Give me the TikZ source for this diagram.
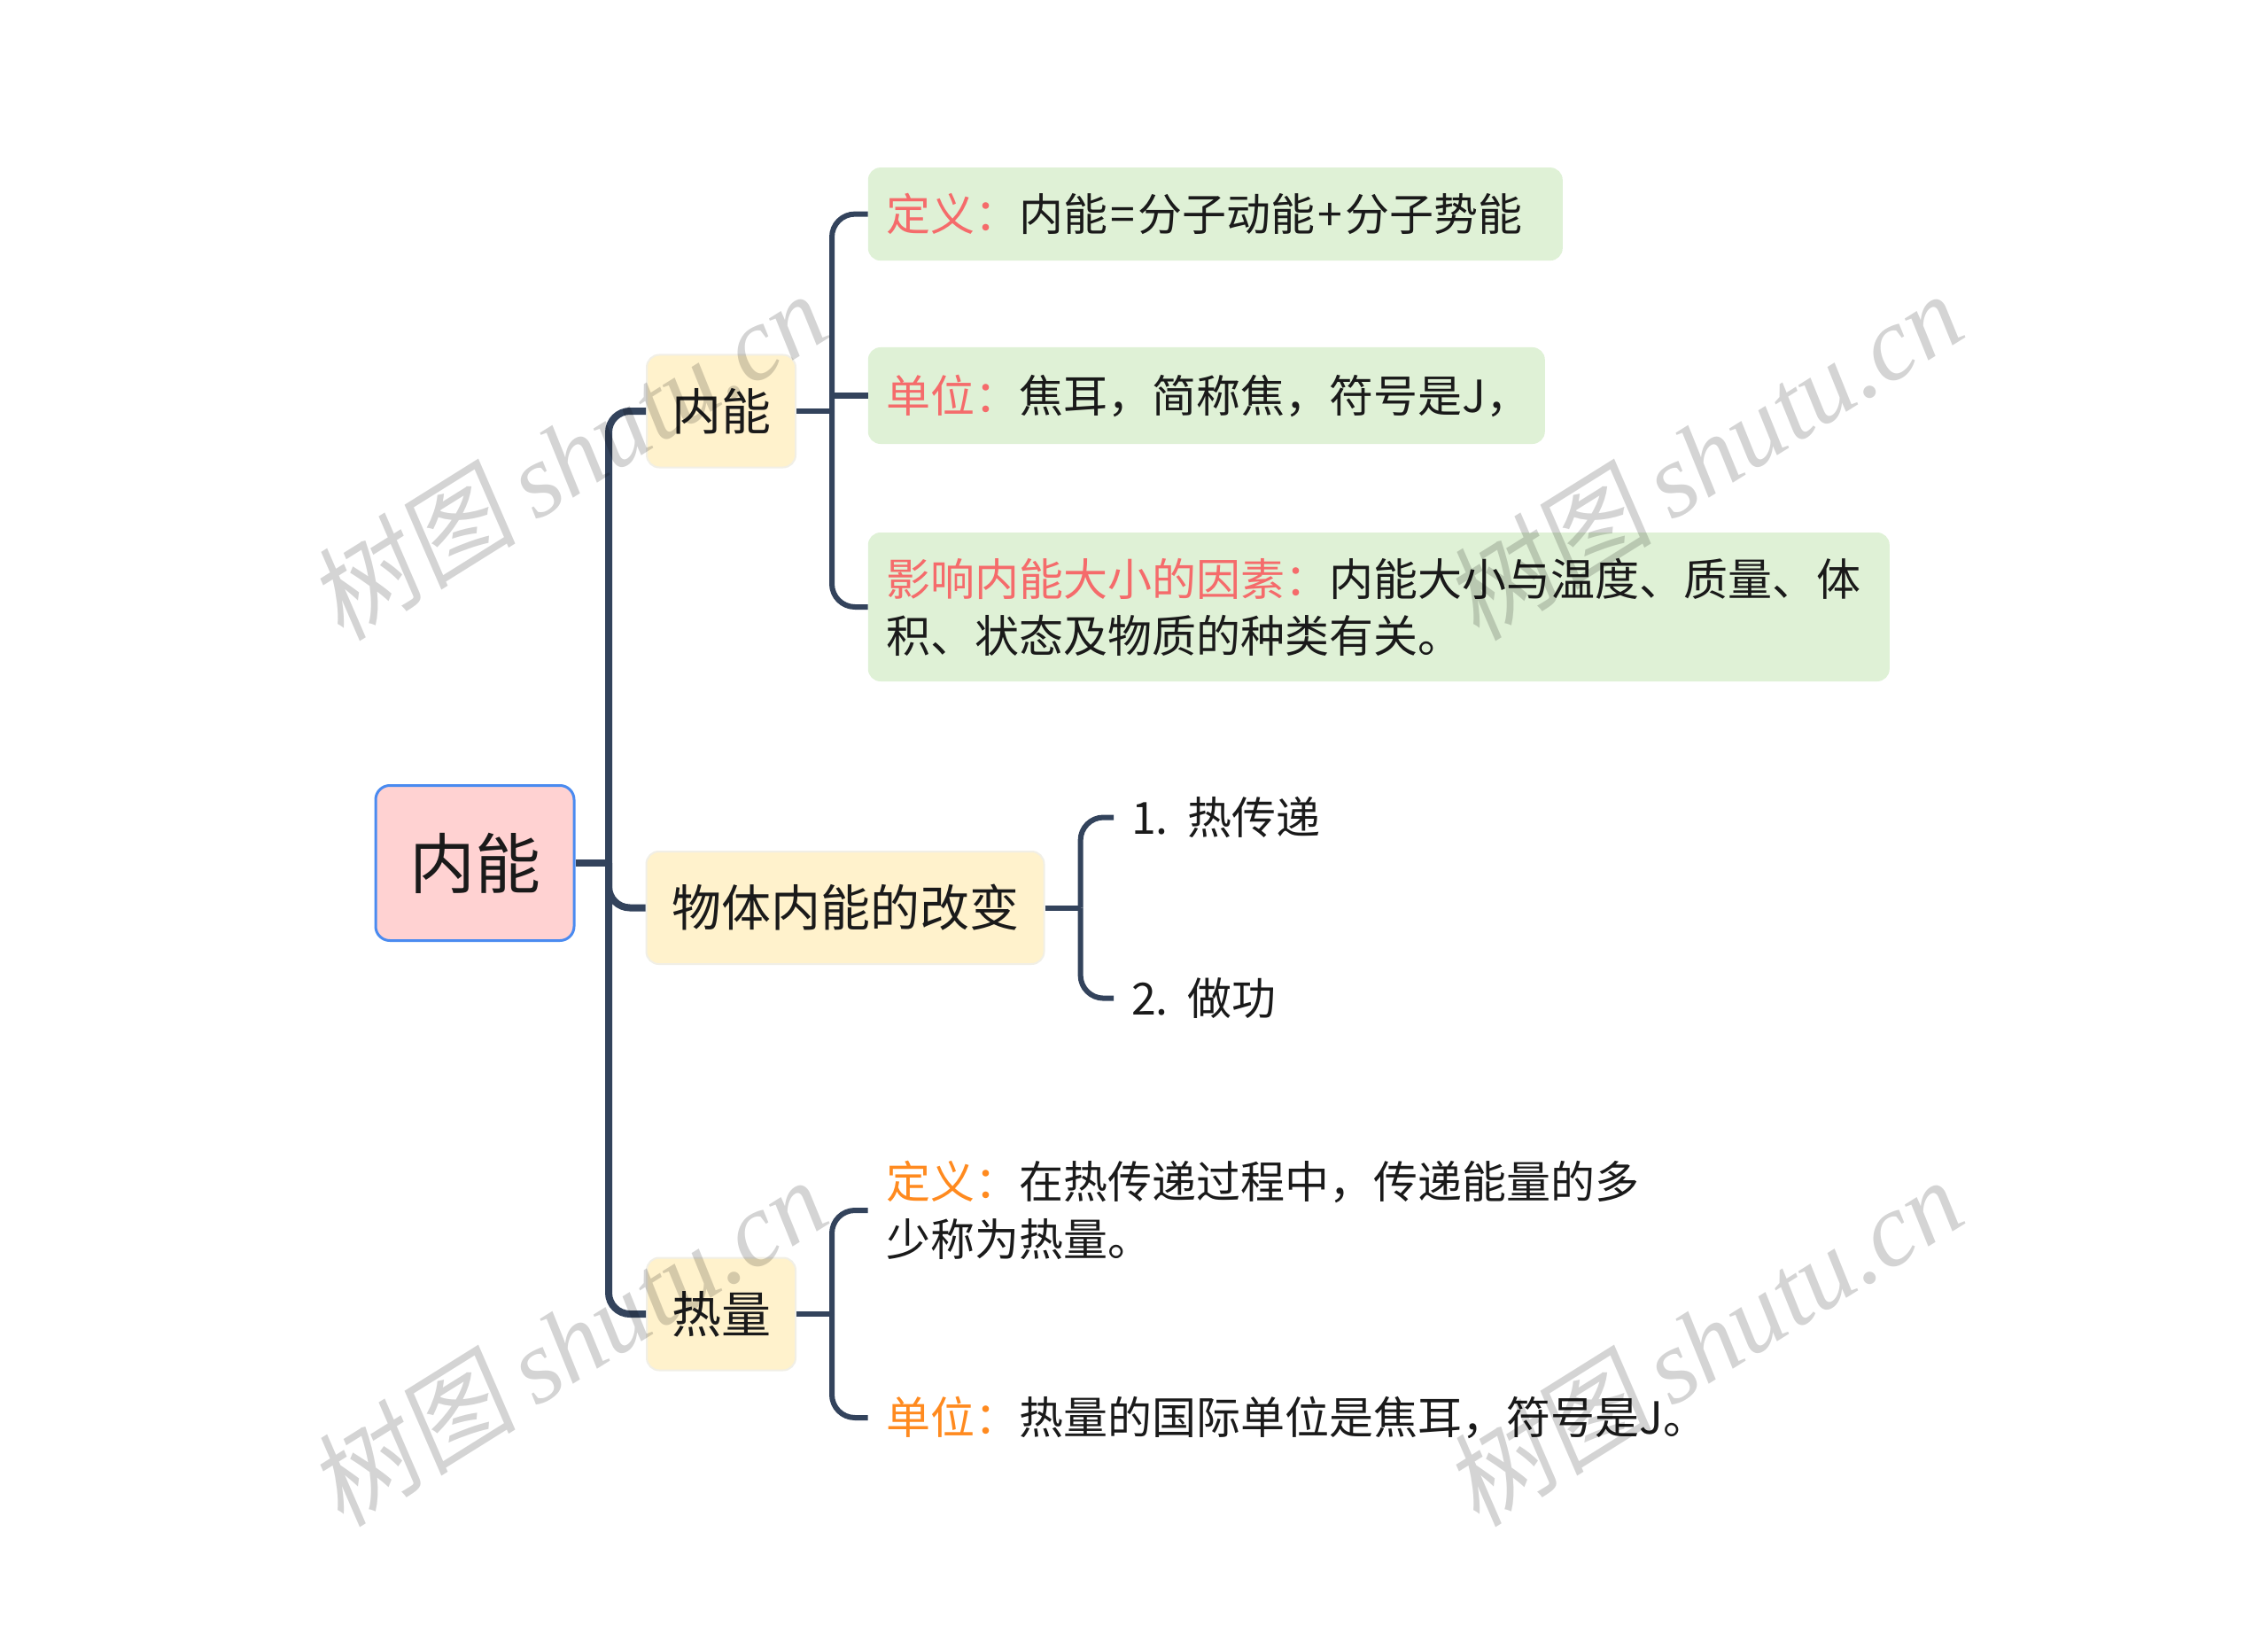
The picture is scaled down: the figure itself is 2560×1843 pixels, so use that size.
\documentclass[tikz,border=0pt]{standalone}
\usepackage{fontspec}
\setmainfont{Noto Sans CJK SC}
\newfontfamily\wmcjk[FakeSlant=0.15]{Noto Sans CJK SC}
\newfontfamily\wmlat{Liberation Serif}
\definecolor{linec}{HTML}{33435C}
\definecolor{rootfill}{HTML}{FFD2D2}
\definecolor{rootdraw}{HTML}{4A8BF0}
\definecolor{yfill}{HTML}{FFF2CC}
\definecolor{ydraw}{HTML}{F1EFE6}
\definecolor{gfill}{HTML}{DFF1D6}
\definecolor{redlab}{HTML}{F56B6B}
\definecolor{orglab}{HTML}{FF8A1F}
\definecolor{txt}{HTML}{1A1A1A}
\tikzset{
  rootbox/.style={draw=rootdraw, line width=3pt, fill=rootfill, rounded corners=16pt,
    minimum width=224pt, minimum height=175pt, inner sep=0pt, text=txt,
    font=\fontsize{74}{80}\selectfont},
  lonebox/.style={draw=ydraw, line width=2pt, fill=yfill, rounded corners=14pt,
    minimum height=127pt, inner sep=0pt, text=txt,
    font=\fontsize{56}{64}\selectfont},
  gbox/.style={fill=gfill, rounded corners=14pt, inner xsep=21pt, inner ysep=0pt,
    align=left, anchor=west, text=txt, font=\fontsize{50}{64}\selectfont},
  plain/.style={inner xsep=21pt, inner ysep=0pt, align=left, anchor=west, text=txt,
    font=\fontsize{50}{65}\selectfont},
  trunk/.style={draw=linec, line width=8pt, rounded corners=24pt},
  branch/.style={draw=linec, line width=6pt, rounded corners=26pt},
  wm/.style={rotate=32, text=black, text opacity=0.17, inner sep=0pt}
}
\begin{document}
\begin{tikzpicture}[x=1pt,y=-1pt]
\useasboundingbox (0,0) rectangle (2560,1843);
% nodes
\node[rootbox] (root) at (536,974) {内能};
\node[lonebox, minimum width=168pt] (nn) at (814,464) {内能};
\node[lonebox, minimum width=449pt] (wt) at (954,1024.5) {物体内能的改变};
\node[lonebox, minimum width=168pt] (hq) at (814,1483) {热量};

\node[gbox, text width=742pt, minimum height=105pt] (def1) at (979.6,241.6)
  {\textcolor{redlab}{定义：}内能\hspace{3pt}=\hspace{3pt}分子动能\hspace{3pt}+\hspace{3pt}分子势能};
\node[gbox, text width=722pt, minimum height=109pt] (unit1) at (979.6,446.5)
  {\textcolor{redlab}{单位：}焦耳，简称焦，符号是J，};
\node[gbox, text width=1111pt, minimum height=168pt] (inf1) at (979.6,685)
  {\textcolor{redlab}{影响内能大小的因素：}内能大小与温度、质量、体\\积、状态及物质的种类有关。};

\node[plain, inner xsep=20pt] (h1) at (1257,922.5) {1.\hspace{22pt}热传递};
\node[plain, inner xsep=20pt] (h2) at (1257,1126.6) {2.\hspace{22pt}做功};

\node[plain, text width=880pt] (hdef) at (979.6,1366)
  {\textcolor{orglab}{定义：}在热传递过程中，传递能量的多\\少称为热量。};
\node[plain] (hunit) at (979.6,1600)
  {\textcolor{orglab}{单位：}热量的国际单位是焦耳，符号是J。};

% coordinates
\coordinate (t1) at (687,974);
\coordinate (b1) at (939,464);
\coordinate (b2) at (1219.6,1024.5);
\coordinate (b3) at (939,1483);

% trunk
\draw[trunk] (root.east) -- (t1);
\draw[trunk] (t1) |- (nn.west);
\draw[trunk] (t1) |- (wt.west);
\draw[trunk] (t1) |- (hq.west);

% bracket 1
\draw[branch] (nn.east) -- (b1);
\draw[branch] (b1) |- (def1.west);
\draw[branch] (b1) |- (inf1.west);
\draw[branch] (b1 |- unit1.west) -- (unit1.west);

% bracket 2
\draw[branch] (wt.east) -- (b2);
\draw[branch] (b2) |- (h1.west);
\draw[branch] (b2) |- (h2.west);

% bracket 3
\draw[branch] (hq.east) -- (b3);
\draw[branch] (b3) |- (hdef.west);
\draw[branch] (b3) |- (hunit.west);

% watermarks
\foreach \wx/\wy [count=\i] in {640/514, 1922/514, 640/1514, 1922/1514} {
  \node[wm] (wm\i) at (\wx,\wy) {\fontsize{118}{118}\selectfont\wmcjk 树图\hspace{22pt}\wmlat\itshape shutu.cn};
}
\end{tikzpicture}
\end{document}
